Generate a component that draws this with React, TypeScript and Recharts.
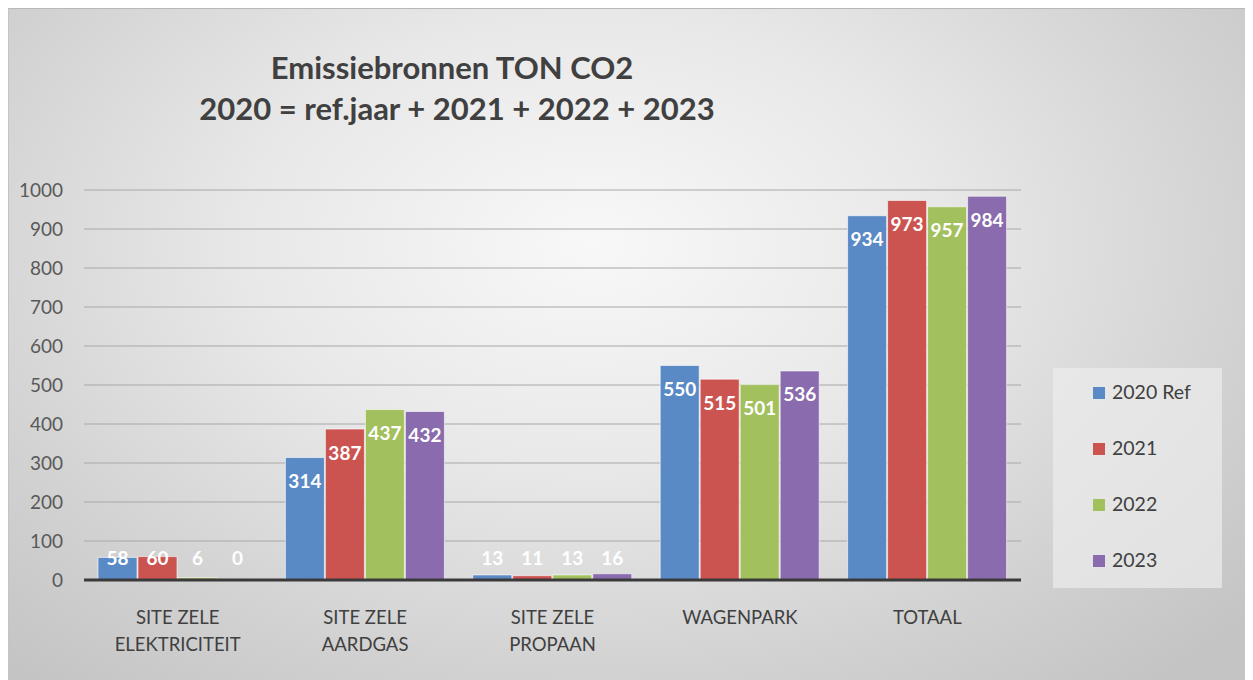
import React from "react";
import {
  BarChart,
  Bar,
  XAxis,
  YAxis,
  CartesianGrid,
  Legend,
  LabelList,
} from "recharts";

const categories = [
  ["SITE ZELE", "ELEKTRICITEIT"],
  ["SITE ZELE", "AARDGAS"],
  ["SITE ZELE", "PROPAAN"],
  ["WAGENPARK"],
  ["TOTAAL"],
];

const values2020 = [58, 314, 13, 550, 934];
const values2021 = [60, 387, 11, 515, 973];
const values2022 = [6, 437, 13, 501, 957];
const values2023 = [0, 432, 16, 536, 984];

const yTicks = [0, 100, 200, 300, 400, 500, 600, 700, 800, 900, 1000];

const seriesNames = ["2020 Ref", "2021", "2022", "2023"];
const seriesKeys = ["y2020", "y2021", "y2022", "y2023"];
const seriesColors = ["#5A8AC6", "#CB5451", "#A2C05E", "#8A6BAD"];

const data = categories.map((lines, i) => ({
  name: lines.join(" "),
  lines,
  y2020: values2020[i],
  y2021: values2021[i],
  y2022: values2022[i],
  y2023: values2023[i],
}));

const FONT = "Lato, 'Open Sans', sans-serif";

const renderLabel = (props: any) => {
  const { x, y, width, height, value } = props;
  const cx = Number(x) + Number(width) / 2;
  const top = Number(y);
  const bottom = top + Number(height);
  const cy = Math.min(top + 23, bottom - 23);
  return (
    <text
      x={cx}
      y={cy}
      textAnchor="middle"
      dominantBaseline="central"
      fill="#ffffff"
      fontFamily={FONT}
      fontWeight={700}
      fontSize={19}
    >
      {value}
    </text>
  );
};

const CategoryTick = (props: any) => {
  const { x, y, payload } = props;
  const lines = categories[payload.index] || [payload.value];
  return (
    <g>
      {lines.map((line, i) => (
        <text
          key={i}
          x={x}
          y={y + 29 + i * 27}
          textAnchor="middle"
          dominantBaseline="central"
          fill="#404040"
          fontFamily={FONT}
          fontSize={18.5}
        >
          {line}
        </text>
      ))}
    </g>
  );
};

const renderLegend = (props: any) => {
  const { payload } = props;
  return (
    <div
      style={{
        width: 169,
        height: 220,
        background: "rgba(236,236,236,0.7)",
        boxSizing: "border-box",
        paddingTop: 12,
      }}
    >
      {(payload || []).map((entry: any, i: number) => (
        <div
          key={i}
          style={{
            height: 56,
            display: "flex",
            alignItems: "flex-start",
            paddingLeft: 40,
            fontFamily: FONT,
            fontSize: 19.5,
            color: "#404040",
          }}
        >
          <span
            style={{
              display: "inline-block",
              width: 12,
              height: 12,
              background: entry.color,
              marginTop: 7,
              marginRight: 7,
            }}
          />
          <span>{entry.value}</span>
        </div>
      ))}
    </div>
  );
};

// keep zero-valued bars in the layout so their labels are still drawn
const keepZero = (value: any) => (Number(value) === 0 ? 0.01 : 0);

export default function App() {
  return (
    <div
      style={{
        position: "relative",
        width: 1245,
        height: 672,
        boxSizing: "border-box",
        borderTop: "1px solid #b8b8b8",
        borderLeft: "1px solid #c4c4c4",
        background:
          "radial-gradient(ellipse 70% 85% at 47% 35%, #f8f8f8 0%, #e8e8e8 40%, #d2d2d2 75%, #c4c4c4 100%)",
        fontFamily: FONT,
      }}
    >
      <div
        style={{
          position: "absolute",
          left: 0,
          top: 38,
          width: 896,
          textAlign: "center",
          fontSize: 31,
          fontWeight: 700,
          color: "#404040",
          lineHeight: "41px",
        }}
      >
        <div style={{ marginLeft: -10 }}>Emissiebronnen TON CO2</div>
        <div>2020 = ref.jaar + 2021 + 2022 + 2023</div>
      </div>
      <BarChart
        width={1244}
        height={671}
        data={data}
        margin={{ top: 181, right: 232, bottom: 40, left: 0 }}
        barCategoryGap={14}
        barGap={1}
        style={{ position: "absolute", left: 0, top: 0 }}
      >
        <CartesianGrid vertical={false} stroke="#a8a8a8" strokeWidth={1} />
        <XAxis
          dataKey="name"
          height={60}
          axisLine={{ stroke: "#3a3a3a", strokeWidth: 3 }}
          tickLine={false}
          tick={<CategoryTick />}
          interval={0}
        />
        <YAxis
          width={75}
          domain={[0, 1000]}
          ticks={yTicks}
          axisLine={false}
          tickLine={false}
          tickSize={0}
          tickMargin={21}
          tick={{ fill: "#595959", fontSize: 19, fontFamily: FONT }}
        />
        <Legend
          layout="vertical"
          align="center"
          verticalAlign="middle"
          content={renderLegend}
          wrapperStyle={{ left: 1044, top: 359, width: 169, height: 220 }}
        />
        {seriesKeys.map((key, i) => (
          <Bar
            key={key}
            dataKey={key}
            name={seriesNames[i]}
            fill={seriesColors[i]}
            stroke="rgba(255,255,255,0.6)"
            strokeWidth={1}
            minPointSize={keepZero}
            isAnimationActive={false}
          >
            <LabelList dataKey={key} content={renderLabel} />
          </Bar>
        ))}
      </BarChart>
    </div>
  );
}
